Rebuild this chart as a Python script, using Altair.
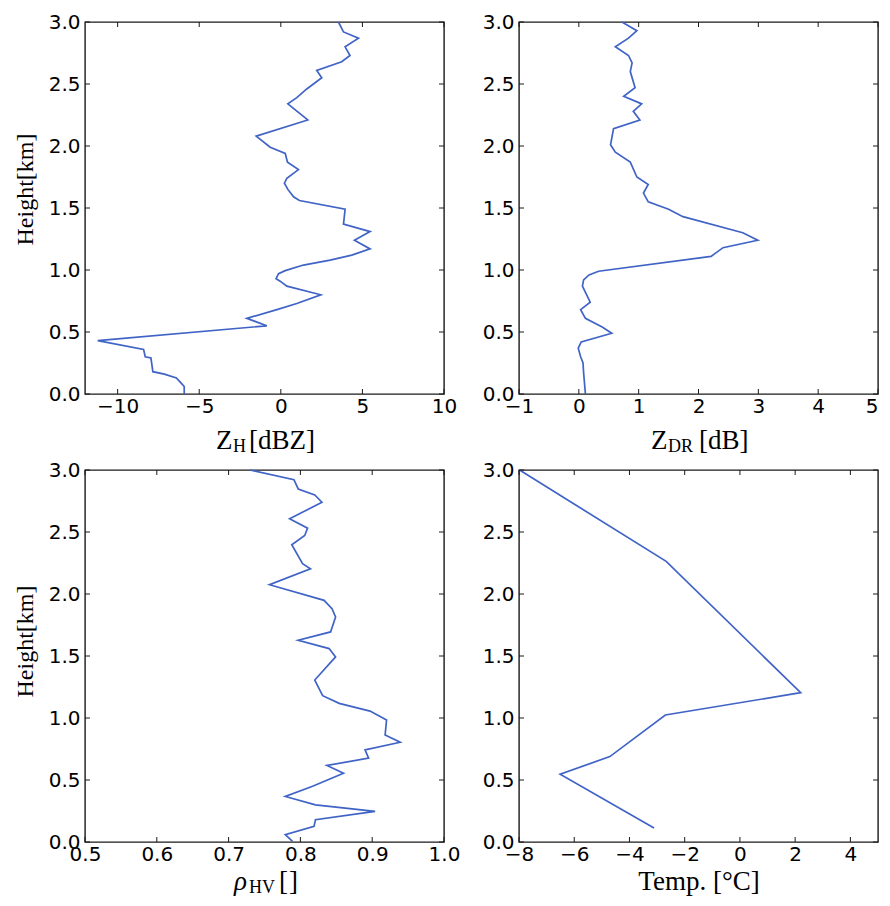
import altair as alt
import pandas as pd

# ---------------- data ----------------
zh_height = [0.00, 0.06, 0.09, 0.13, 0.16, 0.18, 0.29, 0.30, 0.36, 0.43, 0.55, 0.61, 0.68,
             0.73, 0.80, 0.87, 0.91, 0.93, 0.97, 0.995, 1.04, 1.08, 1.12, 1.17, 1.24, 1.31,
             1.37, 1.49, 1.56, 1.59, 1.65, 1.70, 1.74, 1.81, 1.87, 1.94, 1.99, 2.08, 2.21,
             2.34, 2.39, 2.46, 2.55, 2.61, 2.68, 2.73, 2.80, 2.87, 2.92, 3.00]
zh_value = [-5.92, -5.92, -6.12, -6.40, -7.14, -7.84, -7.96, -8.31, -8.41, -11.22, -0.86,
            -2.08, -0.24, 0.98, 2.45, 0.37, -0.04, -0.29, -0.14, 0.27, 1.39, 3.02, 4.35,
            5.47, 4.51, 5.47, 3.84, 3.94, 1.14, 0.78, 0.43, 0.22, 0.37, 1.08, 0.41, 0.27,
            -0.65, -1.51, 1.65, 0.43, 0.98, 1.59, 2.51, 2.20, 3.73, 4.24, 3.94, 4.76, 3.84, 3.53]

zdr_height = [0.00, 0.17, 0.25, 0.30, 0.37, 0.42, 0.49, 0.54, 0.61, 0.68, 0.74, 0.87, 0.92,
              0.96, 0.99, 1.11, 1.18, 1.24, 1.30, 1.43, 1.49, 1.55, 1.62, 1.69, 1.75, 1.87,
              1.95, 2.01, 2.14, 2.21, 2.28, 2.34, 2.40, 2.47, 2.60, 2.67, 2.73, 2.80, 2.87,
              2.93, 3.00]
zdr_value = [0.11, 0.08, 0.07, 0.03, -0.01, 0.04, 0.55, 0.39, 0.11, 0.03, 0.19, 0.06, 0.08,
             0.17, 0.33, 2.21, 2.41, 2.99, 2.74, 1.74, 1.50, 1.16, 1.08, 1.16, 0.97, 0.86,
             0.61, 0.53, 0.58, 1.02, 0.91, 1.05, 0.75, 0.94, 0.86, 0.89, 0.83, 0.61, 0.83,
             0.97, 0.72]

rhv_height = [0.005, 0.06, 0.126, 0.18, 0.247, 0.30, 0.367, 0.45, 0.555, 0.617, 0.676, 0.743,
              0.804, 0.863, 0.984, 1.056, 1.118, 1.18, 1.306, 1.493, 1.56, 1.627, 1.694,
              1.815, 1.882, 1.949, 2.075, 2.204, 2.244, 2.397, 2.472, 2.531, 2.606, 2.740,
              2.799, 2.847, 2.922, 3.00]
rhv_value = [0.789, 0.779, 0.819, 0.821, 0.904, 0.821, 0.779, 0.817, 0.860, 0.837, 0.895,
             0.890, 0.939, 0.918, 0.920, 0.897, 0.854, 0.831, 0.820, 0.849, 0.840, 0.797,
             0.842, 0.849, 0.844, 0.833, 0.757, 0.814, 0.803, 0.788, 0.806, 0.810, 0.785,
             0.830, 0.820, 0.797, 0.791, 0.730]

temp_height = [0.113, 0.547, 0.689, 1.024, 1.204, 2.263, 3.00]
temp_value = [-3.11, -6.51, -4.71, -2.70, 2.20, -2.67, -7.98]

y_ticks = [0.0, 0.5, 1.0, 1.5, 2.0, 2.5, 3.0]
zh_ticks = [-10, -5, 0, 5, 10]
zdr_ticks = [-1, 0, 1, 2, 3, 4, 5]
rhv_ticks = [0.5, 0.6, 0.7, 0.8, 0.9, 1.0]
temp_ticks = [-8, -6, -4, -2, 0, 2, 4]

# ---------------- styling ----------------
W, H = 359, 372
LINE = "#4063c6"
FRAME = "#1a1a1a"
SERIF = "Liberation Serif"
SANS = "DejaVu Sans"
TICK = 5
FS = 27
SUB = 18
ONE = pd.DataFrame({"k": [0]})


def text_piece(txt, x, y, size=FS, italic=False, align="left"):
    return alt.Chart(ONE).mark_text(
        text=txt, font=SERIF, fontSize=size, align=align, baseline="alphabetic",
        color="black", fontStyle="italic" if italic else "normal",
    ).encode(x=alt.value(x), y=alt.value(y))


def panel(values, heights, xdom, xticks, xfmt, pieces, ytitle, ytitle_y, edge_label=None):
    df = pd.DataFrame({"v": values, "h": heights, "i": list(range(len(values)))})
    xextra = {}
    if edge_label is not None:
        # keep the label at the right edge inside the page
        xextra["labelAlign"] = {"condition": {"test": f"datum.value == {edge_label}",
                                              "value": "right"}, "value": "center"}
    xaxis = alt.Axis(values=xticks, format=xfmt, title=None, ticks=False, tickSize=0,
                     domain=False, grid=False, labelFont=SANS, labelFontSize=20,
                     labelColor="black", labelPadding=2, labelFlush=False,
                     labelOverlap=False, **xextra)
    yargs = dict(values=y_ticks, format=".1f", ticks=False, tickSize=0, domain=False,
                 grid=False, labelFont=SANS, labelFontSize=20, labelColor="black",
                 labelPadding=5, labelFlush=False, labelOverlap=False)
    if ytitle:
        yaxis = alt.Axis(title=ytitle, titleFont=SERIF, titleFontSize=24,
                         titleFontWeight="normal", titleColor="black", titleAngle=270,
                         titleAlign="center", titleBaseline="bottom", titleX=-48,
                         titleY=ytitle_y, **yargs)
    else:
        yaxis = alt.Axis(title=None, **yargs)
    xs = alt.Scale(domain=xdom, nice=False, zero=False)
    ys = alt.Scale(domain=[0, 3], nice=False, zero=False)

    line = alt.Chart(df).mark_line(color=LINE, strokeWidth=1.7).encode(
        x=alt.X("v:Q", scale=xs, axis=xaxis),
        y=alt.Y("h:Q", scale=ys, axis=yaxis),
        order="i:Q",
    )
    xt = pd.DataFrame({"v": xticks})
    yt = pd.DataFrame({"h": y_ticks})
    rule = dict(color=FRAME, strokeWidth=1)
    tb = alt.Chart(xt).mark_rule(**rule).encode(x="v:Q", y=alt.value(H - TICK), y2=alt.value(H))
    tt = alt.Chart(xt).mark_rule(**rule).encode(x="v:Q", y=alt.value(0), y2=alt.value(TICK))
    tl = alt.Chart(yt).mark_rule(**rule).encode(y="h:Q", x=alt.value(0), x2=alt.value(TICK))
    tr = alt.Chart(yt).mark_rule(**rule).encode(y="h:Q", x=alt.value(W - TICK), x2=alt.value(W))
    texts = [text_piece(*p[:3], **p[3]) for p in pieces]
    return alt.layer(line, tb, tt, tl, tr, *texts).properties(width=W, height=H)


BT = 427   # baseline of x titles, top row
BB = 420   # baseline of x titles, bottom row (kept inside the page)
p1 = panel(zh_value, zh_height, [-12, 10], zh_ticks, "d",
           [("Z", 131, BT, {}), ("H", 148, BT + 3, {"size": SUB}), ("[dBZ]", 164, BT, {})],
           "Height[km]", 167)
p2 = panel(zdr_value, zdr_height, [-1, 5], zdr_ticks, "d",
           [("Z", 132, BT, {}), ("DR", 149, BT + 3, {"size": SUB}), ("[dB]", 180, BT, {})],
           None, 0, edge_label=5)
p3 = panel(rhv_value, rhv_height, [0.5, 1.0], rhv_ticks, ".1f",
           [("ρ", 149, BB, {"italic": True}), ("HV", 164, BB + 3, {"size": SUB}),
            ("[", 194, BB, {}), ("]", 204, BB, {})],
           "Height[km]", 171)
p4 = panel(temp_value, temp_height, [-8, 5], temp_ticks, "d",
           [("Temp. [°C]", 180, BB, {"align": "center"})],
           None, 0)

chart = alt.concat(p1, p2, p3, p4, columns=2, spacing=alt.RowColnumber(row=76, column=75),
                   bounds="flush").properties(
    padding={"left": 4, "top": 3, "right": 0, "bottom": 0},
    background="white",
).configure_view(stroke=FRAME, strokeWidth=1.4)

chart.save("out.html", embed_options={"renderer": "svg", "actions": False})
